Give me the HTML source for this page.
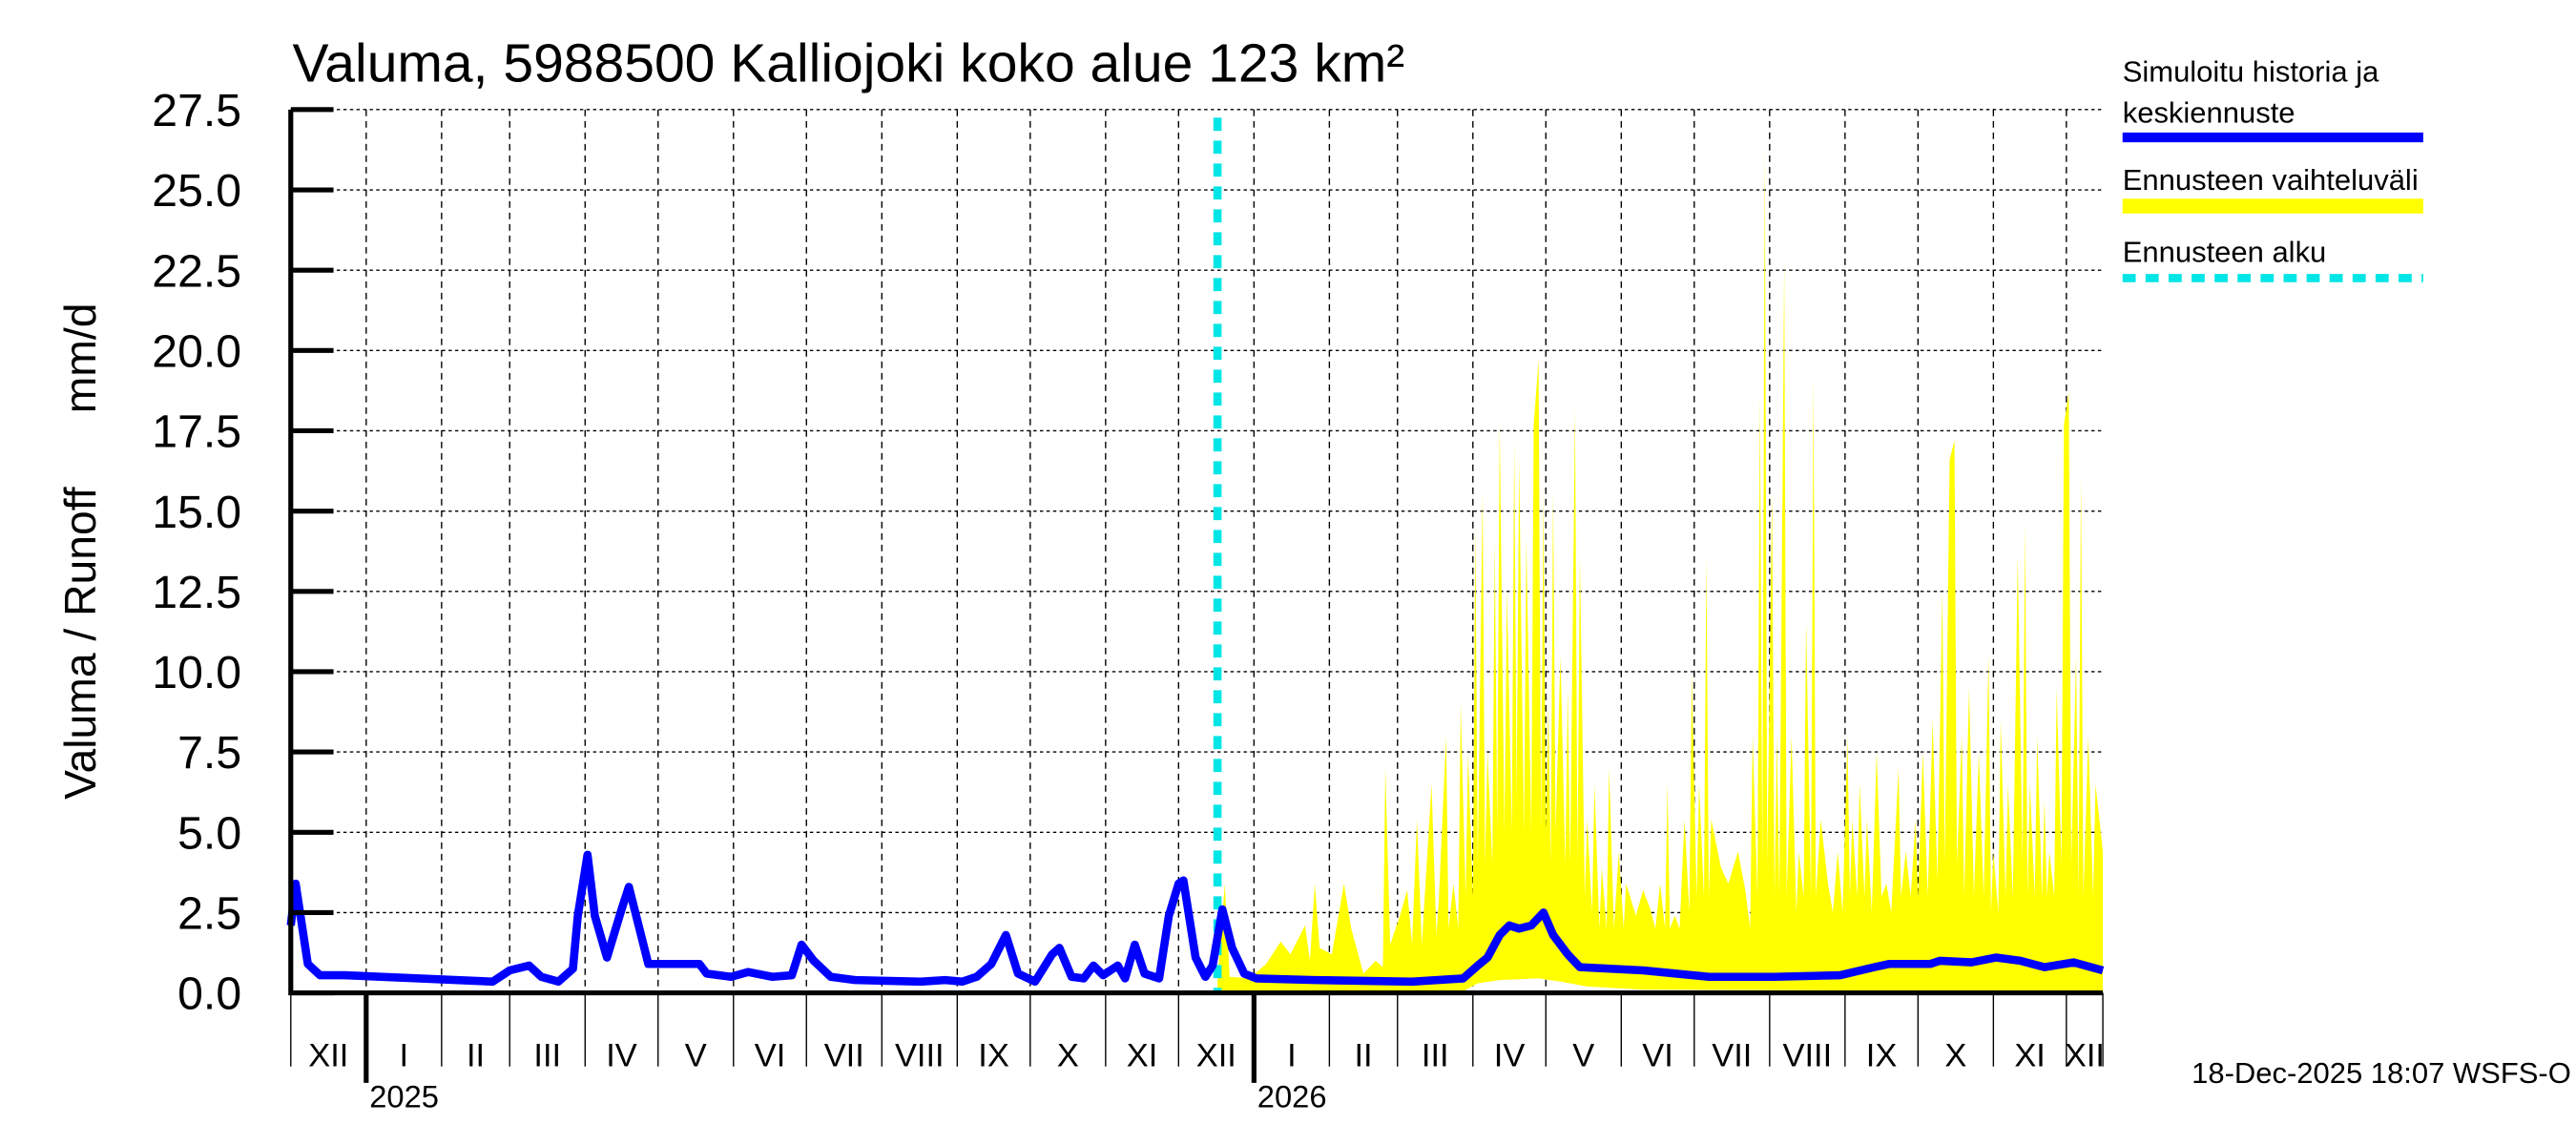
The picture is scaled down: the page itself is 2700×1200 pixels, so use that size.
<!DOCTYPE html>
<html><head><meta charset="utf-8"><style>
html,body{margin:0;padding:0;background:#fff;}
svg{display:block;font-family:"Liberation Sans",sans-serif;}
</style></head><body>
<svg id="chart" width="2700" height="1200" viewBox="0 0 1568 700" preserveAspectRatio="none" xmlns="http://www.w3.org/2000/svg">
<rect x="0" y="0" width="1568" height="700" fill="#fff"/>
<text x="178" y="50" font-size="33" textLength="677" lengthAdjust="spacingAndGlyphs">Valuma, 5988500 Kalliojoki koko alue 123 km²</text>
<text transform="translate(58,337) rotate(-90)" text-anchor="middle" font-size="27" xml:space="preserve">Valuma / Runoff      mm/d</text>
<g id="grid"></g>
<g id="band"></g>
<g id="series"></g>
<g id="axes"></g>
<g>
<text x="1292" y="50" font-size="18">Simuloitu historia ja</text>
<text x="1292" y="75" font-size="18">keskiennuste</text>
<line x1="1292" y1="84" x2="1475" y2="84" stroke="#0000ff" stroke-width="6"/>
<text x="1292" y="116" font-size="18">Ennusteen vaihteluväli</text>
<line x1="1292" y1="126" x2="1475" y2="126" stroke="#ffff00" stroke-width="9"/>
<text x="1292" y="160" font-size="18">Ennusteen alku</text>
<line x1="1292" y1="170" x2="1475" y2="170" stroke="#00e5e5" stroke-width="5" stroke-dasharray="8,6"/>
</g>
<text x="1565" y="662" text-anchor="end" font-size="18">18-Dec-2025 18:07 WSFS-O</text>
</svg>
<script>
const yTicks=[0,2.5,5,7.5,10,12.5,15,17.5,20,22.5,25,27.5];
const monthStarts=[0,31,62,90,121,151,182,212,243,274,304,335,365,396,427,455,486,516,547,577,608,639,669,700,730,745];
const monthLabels=["XII","I","II","III","IV","V","VI","VII","VIII","IX","X","XI","XII","I","II","III","IV","V","VI","VII","VIII","IX","X","XI","XII"];
const yearStarts=[31,396];
const yearLabels=["2025","2026"];
const forecastStartDay=381;
const simDays=[0,2,4,7,12,22,83,90,98,103,110,116,118,122,125,130,136,139,143,147,157,168,171,181,188,198,206,210,215,222,232,259,269,276,282,288,294,299,306,313,316,321,326,330,334,340,343,347,351,357,361,365,367,372,376,379,383,387,392,397,421,461,482,488,492,497,501,505,510,515,519,525,530,556,583,610,637,651,657,674,678,691,701,711,721,733,745];
const simValues=[2.1,3.4,2.4,0.9,0.55,0.55,0.35,0.7,0.85,0.5,0.35,0.75,2.4,4.3,2.4,1.1,2.6,3.3,2.1,0.9,0.9,0.9,0.6,0.5,0.65,0.5,0.55,1.5,1.0,0.5,0.4,0.35,0.4,0.35,0.5,0.9,1.8,0.6,0.35,1.2,1.4,0.5,0.45,0.85,0.55,0.85,0.45,1.5,0.6,0.45,2.4,3.4,3.5,1.1,0.5,0.85,2.6,1.4,0.6,0.45,0.4,0.35,0.45,0.85,1.1,1.8,2.1,2.0,2.1,2.5,1.8,1.2,0.8,0.7,0.5,0.5,0.55,0.8,0.9,0.9,1.0,0.95,1.1,1.0,0.8,0.95,0.7];
const bandDays=[381,384,386,394,401,407,411,417,419,421,423,428,433,436,441,446,449,450,452,456,459,461,463,465,469,471,472,475,476,478,480,481,483,484,486,487,488,490,491,492,494,495,496,497,499,500,502,503,504,505,507,508,510,511,513,514,515,516,517,518,519,520,522,524,525,526,528,529,530,532,533,535,536,538,539,541,542,544,546,548,549,553,556,559,561,563,565,566,567,569,571,573,575,576,578,579,581,582,583,584,588,591,595,598,600,601,603,604,605,606,607,609,610,611,612,614,615,617,619,620,622,623,625,626,627,629,632,634,636,638,640,641,642,644,645,647,648,650,652,654,656,658,661,662,664,666,668,669,671,673,675,677,679,680,682,684,685,687,688,690,692,694,696,698,699,700,702,703,705,706,708,710,712,713,714,715,717,718,720,721,722,723,725,726,728,729,731,732,734,735,736,737,739,741,742,745];
const bandUpper=[0.35,3.4,0.5,0.45,0.9,1.6,1.2,2.1,1.0,3.4,1.4,1.2,3.4,2.0,0.6,1.0,0.8,7.0,1.5,2.4,3.2,1.5,5.4,1.5,6.5,1.8,2.9,8.0,2.0,3.4,2.0,9.0,3.0,7.5,3.0,14.6,4.0,15.6,4.0,7.5,4.0,14.1,5.0,17.7,5.0,12.6,5.0,17.2,6.0,16.6,5.0,14.1,5.0,17.7,19.7,5.0,15.6,5.0,9.0,4.0,15.6,5.0,10.5,4.0,9.5,4.0,18.2,4.0,13.6,3.0,5.4,2.5,6.5,2.0,3.9,2.0,7.0,2.0,4.4,2.0,3.4,2.4,3.2,2.6,2.0,3.4,2.0,6.5,2.0,2.4,2.0,5.4,2.5,10.0,3.0,6.5,3.0,13.6,3.0,5.4,3.9,3.4,4.4,3.2,2.0,8.0,3.0,18.7,4.0,26.3,4.0,15.6,3.0,8.0,3.0,22.8,3.0,8.0,2.5,4.4,3.0,11.6,3.0,19.2,3.0,5.4,3.4,2.5,4.4,2.5,8.0,3.0,5.4,3.0,6.5,3.0,5.4,2.5,7.5,3.0,3.4,2.5,7.0,3.0,4.4,3.0,5.4,3.0,7.5,3.0,8.5,3.5,12.6,4.0,16.6,17.2,4.0,8.0,3.0,9.5,3.0,7.5,3.0,10.5,2.5,4.4,2.5,8.5,3.0,6.5,3.0,13.6,4.0,14.6,3.0,6.5,3.0,8.0,3.0,6.0,3.0,4.4,3.0,9.5,4.0,17.7,18.7,4.0,10.5,3.0,16.1,3.0,8.0,3.0,6.5,4.4];
const bandLowerDays=[381,482,488,497,513,522,533,556,745];
const bandLower=[0.05,0.05,0.3,0.4,0.45,0.35,0.2,0.1,0.05];
const X0=177,X1=1280,D0=0,D1=745,Y0=607,Y1=67,V1=27.5;
function x(d){return X0+(d-D0)/(D1-D0)*(X1-X0);}
function y(v){return Y0-v/V1*(Y0-Y1);}
const NS="http://www.w3.org/2000/svg";
function mk(tag,attrs,parent){const e=document.createElementNS(NS,tag);for(const k in attrs)e.setAttribute(k,attrs[k]);parent.appendChild(e);return e;}
const grid=document.getElementById('grid'),axes=document.getElementById('axes'),band=document.getElementById('band'),series=document.getElementById('series');
yTicks.forEach((t,i)=>{
  if(i>0){const g=mk('line',{x1:X0,x2:X1,y1:y(t),y2:y(t),stroke:'#000','stroke-width':0.8,'stroke-dasharray':'2,2'},grid);
  
  }
  const tk=mk('line',{x1:X0,x2:X0+26,y1:y(t),y2:y(t),stroke:'#000','stroke-width':3},axes);
  
  
  const lb=mk('text',{x:147,y:y(t)+10,'text-anchor':'end','font-size':28},axes);
  lb.textContent=t.toFixed(1);
  
  
});
monthStarts.forEach((d,i)=>{
  if(d>D0&&d<D1){const g=mk('line',{x1:x(d),x2:x(d),y1:Y1,y2:Y0,stroke:'#000','stroke-width':0.8,'stroke-dasharray':'4,3'},grid);
  
  }
  const isYear=yearStarts.includes(d);
  const tk=mk('line',{x1:x(d),x2:x(d),y1:Y0,y2:isYear?Y0+55:Y0+45,stroke:'#000','stroke-width':isYear?3:0.8},axes);
  
  
  if(i<monthLabels.length){const end=monthStarts[i+1];
    const lb=mk('text',{x:(x(d)+x(end))/2,y:Y0+45,'text-anchor':'middle','font-size':20},axes);
    lb.textContent=monthLabels[i];
    
    }
});
yearStarts.forEach((d,i)=>{
  const lb=mk('text',{x:x(d)+2,y:Y0+70,'font-size':19},axes);
  lb.textContent=yearLabels[i];
  
  
});
let pts=bandDays.map((d,i)=>x(d)+','+y(bandUpper[i]));
for(let i=bandLowerDays.length-1;i>=0;i--)pts.push(x(bandLowerDays[i])+','+y(bandLower[i]));
const poly=mk('polygon',{points:pts.join(' '),fill:'#ffff00',stroke:'none'},band);


const fl=mk('line',{x1:x(forecastStartDay),x2:x(forecastStartDay),y1:Y1+5,y2:Y0,stroke:'#00e5e5','stroke-width':5,'stroke-dasharray':'8,6'},series);


const ln=mk('polyline',{points:simDays.map((d,i)=>x(d)+','+y(simValues[i])).join(' '),fill:'none',stroke:'#0000ff','stroke-width':5,'stroke-linejoin':'round'},series);


const ax=mk('polyline',{points:`${X0},${Y1} ${X0},${Y0} ${X1},${Y0}`,fill:'none',stroke:'#000','stroke-width':3},axes);


</script>
</body></html>
